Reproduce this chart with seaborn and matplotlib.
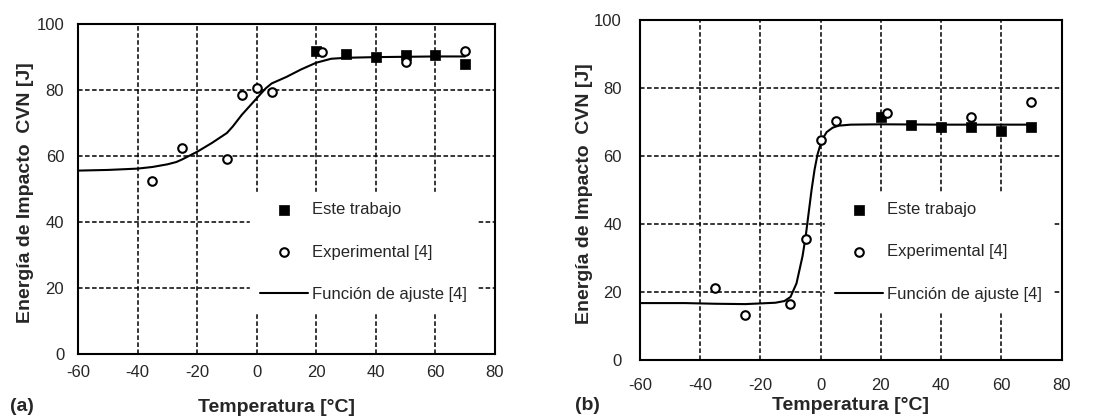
import matplotlib
matplotlib.use('Agg')
import matplotlib.pyplot as plt
import seaborn as sns

# panel (a)
a_trab_t = [20, 30, 40, 50, 60, 70]
a_trab_e = [92, 91, 90, 90.5, 90.5, 88]
a_exp_t = [-35, -25, -10, -5, 0, 5, 22, 50, 70]
a_exp_e = [52.5, 62.5, 59, 78.5, 80.5, 79.5, 91.5, 88.5, 92]
a_fit_t = [-60, -50, -40, -35, -30, -27, -25, -20, -15, -10, -8, -5, -2, 0, 3, 5, 10, 15, 20, 25, 30, 40, 50, 60, 70]
a_fit_e = [55.6, 55.8, 56.2, 56.7, 57.5, 58.2, 59.0, 61.3, 64.0, 67.0, 69.0, 72.5, 75.5, 77.5, 80.5, 82.0, 84.0, 86.3, 88.3, 89.5, 89.8, 90.0, 90.1, 90.2, 90.2]

# panel (b)
b_trab_t = [20, 30, 40, 50, 60, 70]
b_trab_e = [71.4, 69.1, 68.6, 68.4, 67.4, 68.4]
b_exp_t = [-35, -25, -10, -5, 0, 5, 22, 50, 70]
b_exp_e = [21.1, 13.2, 16.5, 35.5, 64.7, 70.3, 72.5, 71.4, 75.9]
b_fit_t = [-60, -45, -35, -25, -15, -12, -10, -8, -6, -5, -4, -3, -2, -1, 0, 1, 2, 4, 6, 10, 20, 40, 70]
b_fit_e = [16.7, 16.7, 16.5, 16.4, 16.8, 17.3, 18.5, 22.5, 30.5, 36.0, 43.0, 50.0, 56.0, 60.5, 63.5, 65.5, 67.0, 68.3, 68.9, 69.2, 69.3, 69.2, 69.2]

labels = ['Este trabajo', 'Experimental [4]', 'Función de ajuste [4]']

sns.set_style('white')
plt.rcParams['font.family'] = ['Liberation Sans', 'DejaVu Sans']
plt.rcParams['axes.unicode_minus'] = False

fig = plt.figure(figsize=(11.07, 4.16), dpi=100)
ax_a = fig.add_axes([0.0705, 0.149, 0.3765, 0.793])
ax_b = fig.add_axes([0.578, 0.135, 0.381, 0.817])


def draw(ax, trab_t, trab_e, exp_t, exp_e, fit_t, fit_e, leg_anchor,
         xl, yl_x, ypad, xpad):
    ax.grid(True, color='black', linestyle=(0, (3, 1.6)), linewidth=1.1)
    ax.set_axisbelow(True)
    line = sns.lineplot(x=fit_t, y=fit_e, color='black', linewidth=1.5,
                        estimator=None, sort=False, ax=ax).lines[-1]
    sns.scatterplot(x=trab_t, y=trab_e, marker='s', s=60, color='black',
                    edgecolor='black', linewidth=0.5, ax=ax, zorder=3)
    sns.scatterplot(x=exp_t, y=exp_e, marker='o', s=38, color='white',
                    edgecolor='black', linewidth=1.5, ax=ax, zorder=3)
    colls = ax.collections
    handles = [colls[-2], colls[-1], line]
    ax.legend(handles, labels, loc='lower right', bbox_to_anchor=leg_anchor,
              frameon=True, framealpha=1, facecolor='white', edgecolor='white',
              fontsize=12, handlelength=2.9, handletextpad=0.25,
              labelspacing=1.63, borderpad=0.6, borderaxespad=0,
              fancybox=False)
    ax.set_xlim(-60, 80)
    ax.set_ylim(0, 100)
    ax.set_xticks(range(-60, 81, 20))
    ax.set_yticks(range(0, 101, 20))
    ax.tick_params(length=0, labelsize=12)
    ax.tick_params(axis='y', pad=ypad)
    ax.tick_params(axis='x', pad=xpad)
    for s in ax.spines.values():
        s.set_color('black')
        s.set_linewidth(1.5)
        s.set_visible(True)
    ax.set_xlabel('Temperatura [°C]', fontsize=14, fontweight='bold')
    ax.set_ylabel('Energía de Impacto  CVN [J]', fontsize=14, fontweight='bold')
    ax.xaxis.set_label_coords(xl[0], xl[1])
    ax.yaxis.set_label_coords(yl_x, 0.49)


draw(ax_a, a_trab_t, a_trab_e, a_exp_t, a_exp_e, a_fit_t, a_fit_e,
     (0.958, 0.128), (0.475, -0.137), -0.105, 10, 8)
draw(ax_b, b_trab_t, b_trab_e, b_exp_t, b_exp_e, b_fit_t, b_fit_e,
     (0.978, 0.142), (0.5, -0.108), -0.11, 13, 13)

fig.text(0.009, 0.012, '(a)', fontsize=14, fontweight='bold')
fig.text(0.519, 0.014, '(b)', fontsize=14, fontweight='bold')

plt.savefig('out.png', dpi=100)
plt.close()
